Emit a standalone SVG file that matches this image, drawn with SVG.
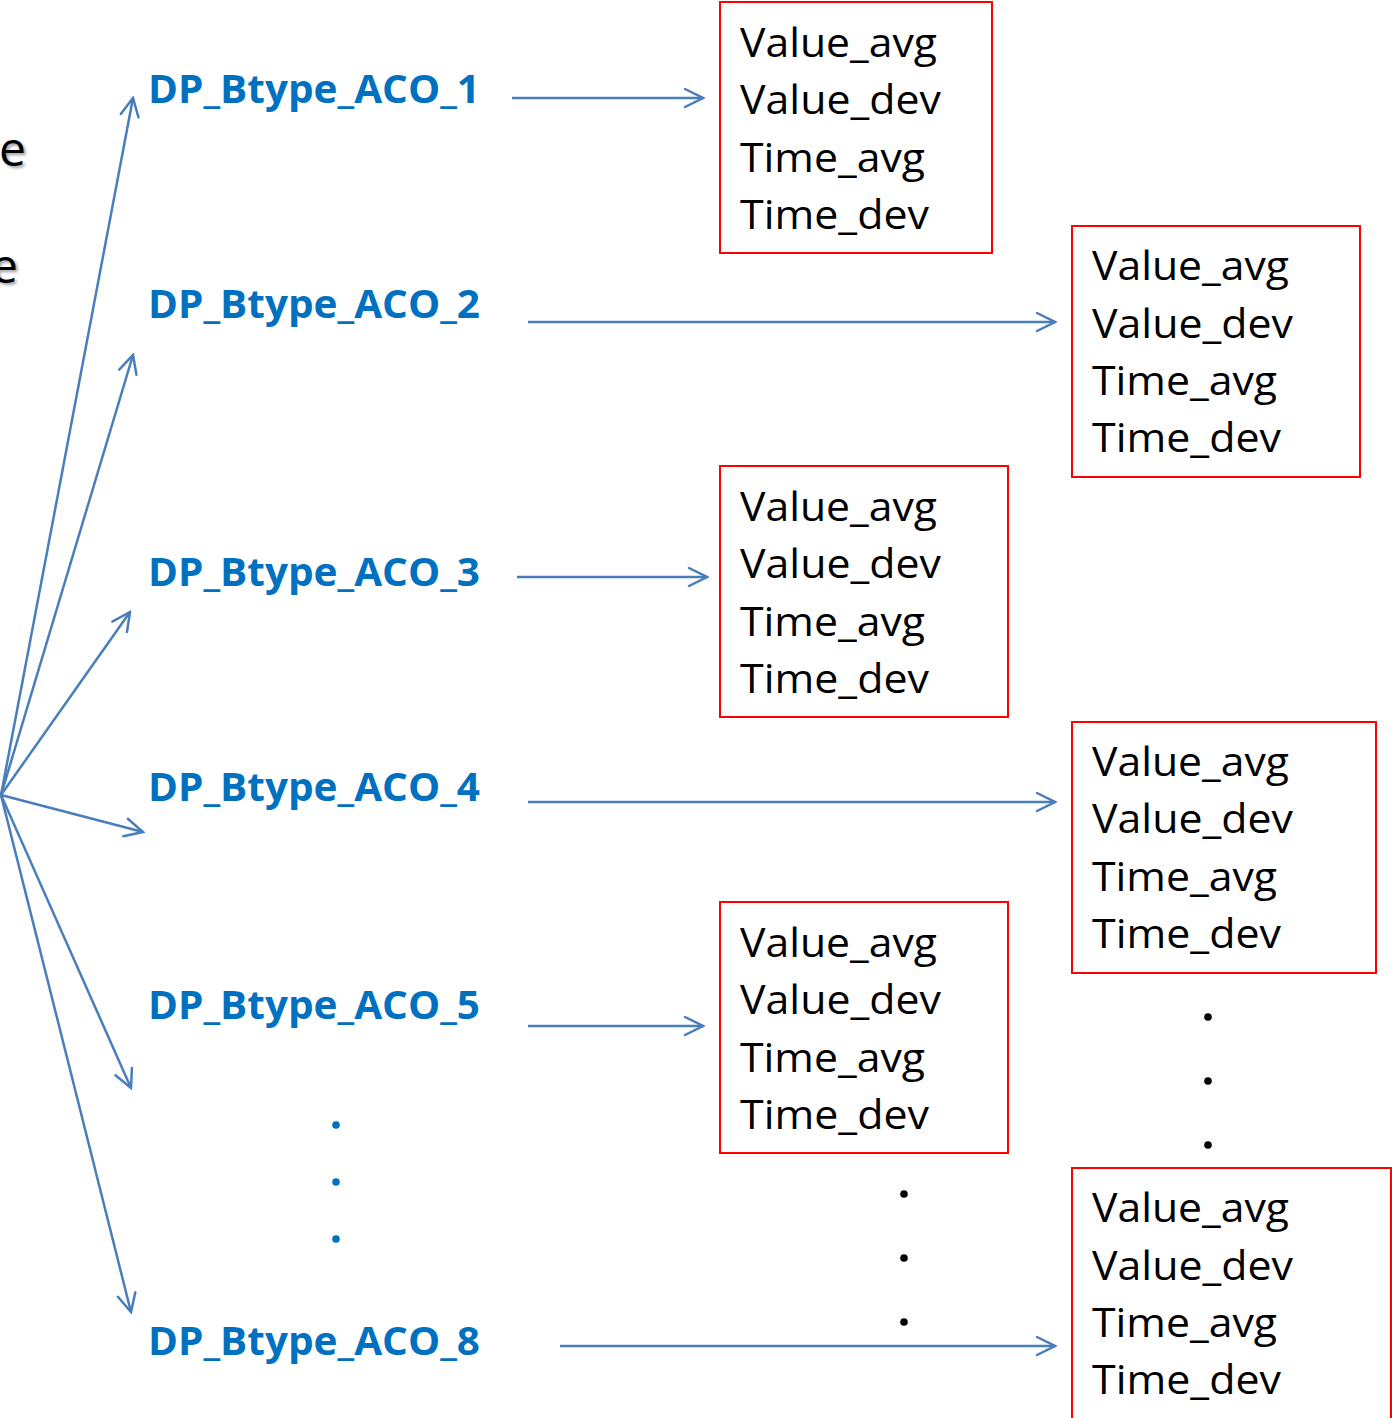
<svg xmlns="http://www.w3.org/2000/svg" width="1392" height="1418" viewBox="0 0 1392 1418">
<style>
.lbl{font-family:"Open Sans","Liberation Sans",sans-serif;font-weight:bold;font-size:40px;fill:#0070C0}
.box{fill:none;stroke:#FF0000;stroke-width:2}
.t{font-family:"Open Sans","Liberation Sans",sans-serif;font-size:41px;fill:#000}
.c{stroke:#4A7EBB;stroke-width:2.5;fill:none;marker-end:url(#ah)}
.bd{fill:#0070C0}
.kd{fill:#000}
.bg{font-family:"Open Sans","Liberation Sans",sans-serif;font-size:48px}
</style>
<defs>
<marker id="ah" viewBox="-22 -12 24 24" refX="0" refY="0" markerWidth="24" markerHeight="24" markerUnits="userSpaceOnUse" orient="auto">
<path d="M -18 -9 L 0 0 L -18 9" fill="none" stroke="#4A7EBB" stroke-width="2.5" stroke-linecap="round" stroke-linejoin="miter"/>
</marker>
<filter id="sh" x="-20%" y="-20%" width="140%" height="140%"><feGaussianBlur stdDeviation="1.5"/></filter>
</defs>
<rect width="1392" height="1418" fill="#fff"/>
<g id="bg-text">
<text class="bg" x="28" y="168" text-anchor="end" fill="#999" filter="url(#sh)">ne</text>
<text class="bg" x="26" y="166" text-anchor="end" fill="#000">ne</text>
<text class="bg" x="20" y="285" text-anchor="end" fill="#999" filter="url(#sh)">e</text>
<text class="bg" x="18" y="283" text-anchor="end" fill="#000">e</text>
</g>
<g id="connectors">
<line class="c" x1="1" y1="795" x2="133" y2="98"/>
<line class="c" x1="1" y1="795" x2="133" y2="355"/>
<line class="c" x1="1" y1="795" x2="130" y2="612"/>
<line class="c" x1="1" y1="795" x2="143" y2="832"/>
<line class="c" x1="1" y1="795" x2="131" y2="1088"/>
<line class="c" x1="1" y1="795" x2="131" y2="1312"/>
<line class="c" x1="512" y1="98" x2="703" y2="98"/>
<line class="c" x1="528" y1="322" x2="1055" y2="322"/>
<line class="c" x1="517" y1="577" x2="707" y2="577"/>
<line class="c" x1="528" y1="802" x2="1055" y2="802"/>
<line class="c" x1="528" y1="1026" x2="703" y2="1026"/>
<line class="c" x1="560" y1="1346" x2="1055" y2="1346"/>
</g>
<g id="label1"><text class="lbl" x="148" y="103" textLength="332" lengthAdjust="spacingAndGlyphs">DP_Btype_ACO_1</text></g>
<g id="label2"><text class="lbl" x="148" y="318" textLength="332" lengthAdjust="spacingAndGlyphs">DP_Btype_ACO_2</text></g>
<g id="label3"><text class="lbl" x="148" y="586" textLength="332" lengthAdjust="spacingAndGlyphs">DP_Btype_ACO_3</text></g>
<g id="label4"><text class="lbl" x="148" y="801" textLength="332" lengthAdjust="spacingAndGlyphs">DP_Btype_ACO_4</text></g>
<g id="label5"><text class="lbl" x="148" y="1019" textLength="332" lengthAdjust="spacingAndGlyphs">DP_Btype_ACO_5</text></g>
<g id="label8"><text class="lbl" x="148" y="1355" textLength="332" lengthAdjust="spacingAndGlyphs">DP_Btype_ACO_8</text></g>
<g id="dots-left">
<circle class="bd" cx="336" cy="1125" r="3.8"/>
<circle class="bd" cx="336" cy="1182" r="3.8"/>
<circle class="bd" cx="336" cy="1239" r="3.8"/>
</g>
<g id="dots-mid">
<circle class="kd" cx="904" cy="1194" r="3.8"/>
<circle class="kd" cx="904" cy="1258" r="3.8"/>
<circle class="kd" cx="904" cy="1322" r="3.8"/>
</g>
<g id="dots-right">
<circle class="kd" cx="1208" cy="1017" r="3.8"/>
<circle class="kd" cx="1208" cy="1081" r="3.8"/>
<circle class="kd" cx="1208" cy="1145" r="3.8"/>
</g>
<g id="box1">
<rect class="box" x="720" y="2" width="272" height="251"/>
<text class="t" x="740" y="57" textLength="197" lengthAdjust="spacingAndGlyphs">Value_avg</text>
<text class="t" x="740" y="114" textLength="201" lengthAdjust="spacingAndGlyphs">Value_dev</text>
<text class="t" x="740" y="172" textLength="185" lengthAdjust="spacingAndGlyphs">Time_avg</text>
<text class="t" x="740" y="229" textLength="189" lengthAdjust="spacingAndGlyphs">Time_dev</text>
</g>
<g id="box2">
<rect class="box" x="1072" y="226" width="288" height="251"/>
<text class="t" x="1092" y="280" textLength="197" lengthAdjust="spacingAndGlyphs">Value_avg</text>
<text class="t" x="1092" y="338" textLength="201" lengthAdjust="spacingAndGlyphs">Value_dev</text>
<text class="t" x="1092" y="395" textLength="185" lengthAdjust="spacingAndGlyphs">Time_avg</text>
<text class="t" x="1092" y="452" textLength="189" lengthAdjust="spacingAndGlyphs">Time_dev</text>
</g>
<g id="box3">
<rect class="box" x="720" y="466" width="288" height="251"/>
<text class="t" x="740" y="521" textLength="197" lengthAdjust="spacingAndGlyphs">Value_avg</text>
<text class="t" x="740" y="578" textLength="201" lengthAdjust="spacingAndGlyphs">Value_dev</text>
<text class="t" x="740" y="636" textLength="185" lengthAdjust="spacingAndGlyphs">Time_avg</text>
<text class="t" x="740" y="693" textLength="189" lengthAdjust="spacingAndGlyphs">Time_dev</text>
</g>
<g id="box4">
<rect class="box" x="1072" y="722" width="304" height="251"/>
<text class="t" x="1092" y="776" textLength="197" lengthAdjust="spacingAndGlyphs">Value_avg</text>
<text class="t" x="1092" y="833" textLength="201" lengthAdjust="spacingAndGlyphs">Value_dev</text>
<text class="t" x="1092" y="891" textLength="185" lengthAdjust="spacingAndGlyphs">Time_avg</text>
<text class="t" x="1092" y="948" textLength="189" lengthAdjust="spacingAndGlyphs">Time_dev</text>
</g>
<g id="box5">
<rect class="box" x="720" y="902" width="288" height="251"/>
<text class="t" x="740" y="957" textLength="197" lengthAdjust="spacingAndGlyphs">Value_avg</text>
<text class="t" x="740" y="1014" textLength="201" lengthAdjust="spacingAndGlyphs">Value_dev</text>
<text class="t" x="740" y="1072" textLength="185" lengthAdjust="spacingAndGlyphs">Time_avg</text>
<text class="t" x="740" y="1129" textLength="189" lengthAdjust="spacingAndGlyphs">Time_dev</text>
</g>
<g id="box6">
<rect class="box" x="1072" y="1168" width="319" height="260"/>
<text class="t" x="1092" y="1222" textLength="197" lengthAdjust="spacingAndGlyphs">Value_avg</text>
<text class="t" x="1092" y="1280" textLength="201" lengthAdjust="spacingAndGlyphs">Value_dev</text>
<text class="t" x="1092" y="1337" textLength="185" lengthAdjust="spacingAndGlyphs">Time_avg</text>
<text class="t" x="1092" y="1394" textLength="189" lengthAdjust="spacingAndGlyphs">Time_dev</text>
</g>
</svg>
